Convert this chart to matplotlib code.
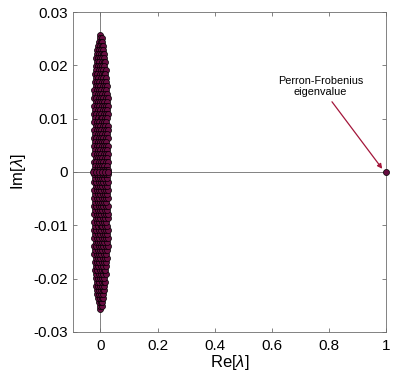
import numpy as np
import matplotlib
matplotlib.use("Agg")
import matplotlib.pyplot as plt

plt.rcParams['font.family'] = ['Liberation Sans', 'DejaVu Sans']
plt.rcParams['mathtext.fontset'] = 'custom'
plt.rcParams['mathtext.it'] = 'Liberation Sans:italic'

# Eigenvalues with positive imaginary part.
# (the matrix is real, so the lower half holds their complex conjugates)
im_rows = [0.0257, 0.0251, 0.0244, 0.0236, 0.0229, 0.0221, 0.0214, 0.0207,
           0.0199, 0.0192, 0.0184, 0.0177, 0.0169, 0.0161, 0.0154, 0.0146,
           0.0139, 0.0131, 0.0124, 0.0116, 0.0109, 0.0101, 0.0094, 0.0086,
           0.0079, 0.0071, 0.0064, 0.0056, 0.0049, 0.0041, 0.0034, 0.0026,
           0.0019, 0.0011, 0.0004]
re_rows = [
    [0.000],
    [-0.003, 0.004],
    [-0.006, 0.001, 0.007],
    [-0.008, -0.002, 0.005, 0.009],
    [-0.011, -0.004, 0.003, 0.010],
    [-0.013, -0.006, 0.001, 0.008, 0.012],
    [-0.015, -0.007, -0.001, 0.006, 0.013],
    [-0.012, -0.004, 0.004, 0.011, 0.016],
    [-0.017, -0.009, -0.002, 0.007, 0.014],
    [-0.014, -0.006, 0.002, 0.010, 0.018],
    [-0.019, -0.011, -0.003, 0.005, 0.013, 0.017],
    [-0.016, -0.007, 0.001, 0.009, 0.019],
    [-0.020, -0.012, -0.004, 0.004, 0.012, 0.020],
    [-0.017, -0.008, 0.000, 0.008, 0.016, 0.022],
    [-0.021, -0.013, -0.005, 0.003, 0.011, 0.019],
    [-0.018, -0.010, -0.001, 0.007, 0.015, 0.024],
    [-0.021, -0.014, -0.006, 0.002, 0.010, 0.020, 0.026],
    [-0.017, -0.009, 0.000, 0.006, 0.014, 0.023],
    [-0.022, -0.012, -0.004, 0.004, 0.012, 0.019, 0.025],
    [-0.019, -0.010, -0.002, 0.008, 0.016, 0.022],
    [-0.021, -0.014, -0.006, 0.003, 0.011, 0.020, 0.026],
    [-0.018, -0.009, 0.001, 0.007, 0.015, 0.024],
    [-0.022, -0.013, -0.004, 0.004, 0.013, 0.021],
    [-0.017, -0.008, -0.001, 0.009, 0.017, 0.025],
    [-0.021, -0.012, -0.005, 0.003, 0.011, 0.019, 0.027],
    [-0.019, -0.010, 0.000, 0.007, 0.015, 0.023],
    [-0.022, -0.014, -0.006, 0.002, 0.010, 0.018, 0.025],
    [-0.018, -0.008, -0.002, 0.006, 0.014, 0.021],
    [-0.021, -0.012, -0.004, 0.005, 0.012, 0.020, 0.026],
    [-0.019, -0.010, -0.001, 0.008, 0.016, 0.023],
    [-0.022, -0.013, -0.005, 0.003, 0.011, 0.019, 0.027],
    [-0.017, -0.009, 0.000, 0.007, 0.015, 0.024],
    [-0.021, -0.014, -0.006, 0.002, 0.010, 0.018, 0.025],
    [-0.018, -0.010, -0.002, 0.006, 0.014, 0.022],
    [-0.022, -0.012, -0.004, 0.004, 0.012, 0.020, 0.026],
]

# real eigenvalues of the bulk
re_real = [-0.026, -0.015, -0.004, 0.006, 0.016, 0.026]

# Perron-Frobenius eigenvalue
pf_re = 1.0
pf_im = 0.0

x_ticks = [0, 0.2, 0.4, 0.6, 0.8, 1]
x_ticklabels = ['0', '0.2', '0.4', '0.6', '0.8', '1']
y_ticks = [-0.03, -0.02, -0.01, 0, 0.01, 0.02, 0.03]
y_ticklabels = ['-0.03', '-0.02', '-0.01', '0', '0.01', '0.02', '0.03']

# build the full set of eigenvalues
re_up = []
im_up = []
for im, row in zip(im_rows, re_rows):
    for re in row:
        re_up.append(re)
        im_up.append(im)
re_up = np.array(re_up)
im_up = np.array(im_up)
re_all = np.concatenate([re_up, re_up, re_real])
im_all = np.concatenate([im_up, -im_up, np.zeros(len(re_real))])

face = '#660d40'
axis_grey = '#6e6e6e'

fig = plt.figure(figsize=(4.15, 3.9), dpi=100)
ax = fig.add_axes([0.176, 0.149, 0.754, 0.820])

ax.axhline(0, color=axis_grey, lw=0.6, zorder=1)
ax.axvline(0, color=axis_grey, lw=0.6, zorder=1)

ax.scatter(re_all, im_all, s=19, c=face, edgecolors='black', linewidths=0.5,
           zorder=2)
ax.scatter([pf_re], [pf_im], s=19, c=face, edgecolors='black', linewidths=0.5,
           zorder=3, clip_on=False)

ax.set_xlim(-0.096, 1.0)
ax.set_ylim(-0.03, 0.03)
ax.set_xticks(x_ticks)
ax.set_xticklabels(x_ticklabels)
ax.set_yticks(y_ticks)
ax.set_yticklabels(y_ticklabels)

for s in ax.spines.values():
    s.set_color(axis_grey)
    s.set_linewidth(0.6)
ax.tick_params(direction='in', length=3, width=0.6, color=axis_grey,
               labelsize=11, top=True, right=True)
ax.tick_params(axis='x', pad=5)
ax.tick_params(axis='y', pad=3.5)

ax.set_xlabel(r'Re[$\lambda$]', fontsize=12, labelpad=0)
ax.set_ylabel(r'Im[$\lambda$]', fontsize=12, labelpad=4)

ax.annotate('Perron-Frobenius\neigenvalue', xy=(0.987, 0.0006),
            xytext=(0.77, 0.0161), ha='center', va='center', fontsize=7.8,
            linespacing=1.15,
            arrowprops=dict(arrowstyle='-|>', color='#a3163a', lw=0.9,
                            mutation_scale=7, shrinkA=2, shrinkB=0))

fig.savefig('out.png', dpi=100)
